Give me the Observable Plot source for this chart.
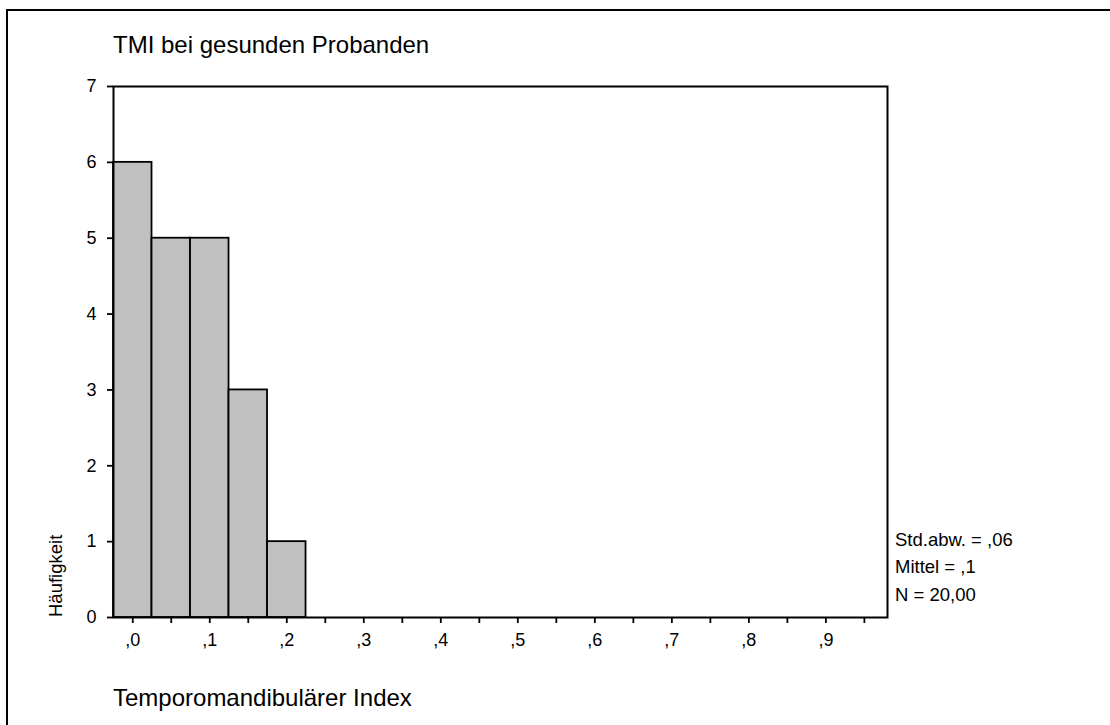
<!DOCTYPE html>
<html>
<head>
<meta charset="utf-8">
<script src="https://cdn.jsdelivr.net/npm/d3@7"></script>
<script src="https://cdn.jsdelivr.net/npm/@observablehq/plot@0.6"></script>
<style>
  html, body { margin: 0; padding: 0; background: #fff; }
  #wrap { position: relative; width: 1110px; height: 725px; overflow: hidden; font-family: "Liberation Sans", Arial, Helvetica, sans-serif; color: #000; }
  #border { position: absolute; left: 6px; top: 9px; width: 1200px; height: 800px; border-left: 2px solid #000; border-top: 2px solid #000; }
  .t { position: absolute; white-space: nowrap; line-height: 1; }
  #chart { position: absolute; left: 0; top: 0; }
</style>
</head>
<body>
<div id="wrap">
  <div id="border"></div>
  <div id="chart"></div>
</div>
<script>
// ---- data ----
const binCenters = [0, 0.05, 0.10, 0.15, 0.20];
const counts = [6, 5, 5, 3, 1];
const binWidth = 0.05;
const xTickValues = [0, 0.05, 0.1, 0.15, 0.2, 0.25, 0.3, 0.35, 0.4, 0.45, 0.5, 0.55, 0.6, 0.65, 0.7, 0.75, 0.8, 0.85, 0.9, 0.95];
const xTickLabels = [",0", "", ",1", "", ",2", "", ",3", "", ",4", "", ",5", "", ",6", "", ",7", "", ",8", "", ",9", ""];
const yTickValues = [0, 1, 2, 3, 4, 5, 6, 7];
const titleText = "TMI bei gesunden Probanden";
const xLabelText = "Temporomandibulärer Index";
const yLabelText = "Häufigkeit";
const statsLines = ["Std.abw. = ,06", "Mittel = ,1", "N = 20,00"];

const bins = binCenters.map((c, i) => ({x1: c - binWidth / 2, x2: c + binWidth / 2, count: counts[i]}));

const W = 1110, H = 725;
const chart = Plot.plot({
  width: W,
  height: H,
  marginLeft: 113,
  marginRight: W - 887,
  marginTop: 86,
  marginBottom: H - 617,
  style: {fontSize: "18px", fontFamily: "'Liberation Sans', Arial, Helvetica, sans-serif", color: "#000", background: "transparent"},
  x: {domain: [-0.025, 0.98]},
  y: {domain: [0, 7]},
  marks: [
    Plot.rectY(bins, {x1: "x1", x2: "x2", y: "count", fill: "#c0c0c0", stroke: "#000", strokeWidth: 1.8}),
    Plot.frame({stroke: "#000", strokeWidth: 2}),
    Plot.axisX({
      ticks: xTickValues,
      tickFormat: (d, i) => xTickLabels[xTickValues.indexOf(d)],
      tickSize: 6,
      tickPadding: 10,
      strokeWidth: 1.8,
      label: null,
      fill: "#000"
    }),
    Plot.axisY({
      ticks: yTickValues,
      tickFormat: d => String(d),
      tickSize: 6,
      tickPadding: 11,
      strokeWidth: 1.8,
      label: null,
      fill: "#000"
    })
  ]
});
document.getElementById("chart").appendChild(chart);

const wrap = document.getElementById("wrap");
function addText(txt, left, baseline, size, extra) {
  const d = document.createElement("div");
  d.className = "t";
  d.textContent = txt;
  d.style.fontSize = size + "px";
  d.style.left = left + "px";
  // approximate: top = baseline - ascent (0.905em for Liberation Sans, line-height 1 -> ~0.86)
  d.style.top = (baseline - size * 0.89) + "px";
  if (extra) Object.assign(d.style, extra);
  wrap.appendChild(d);
  return d;
}
addText(titleText, 113, 54, 24);
addText(xLabelText, 113, 707, 24);
statsLines.forEach((s, i) => addText(s, 895, 547 + i * 27.5, 18.5));

// rotated y label
const yl = document.createElement("div");
yl.className = "t";
yl.textContent = yLabelText;
yl.style.fontSize = "18.5px";
yl.style.left = "0px";
yl.style.top = "0px";
yl.style.transformOrigin = "0 0";
yl.style.transform = "translate(" + (63.5 - 18.5 * 0.89) + "px, 617px) rotate(-90deg)";
wrap.appendChild(yl);
</script>
</body>
</html>
